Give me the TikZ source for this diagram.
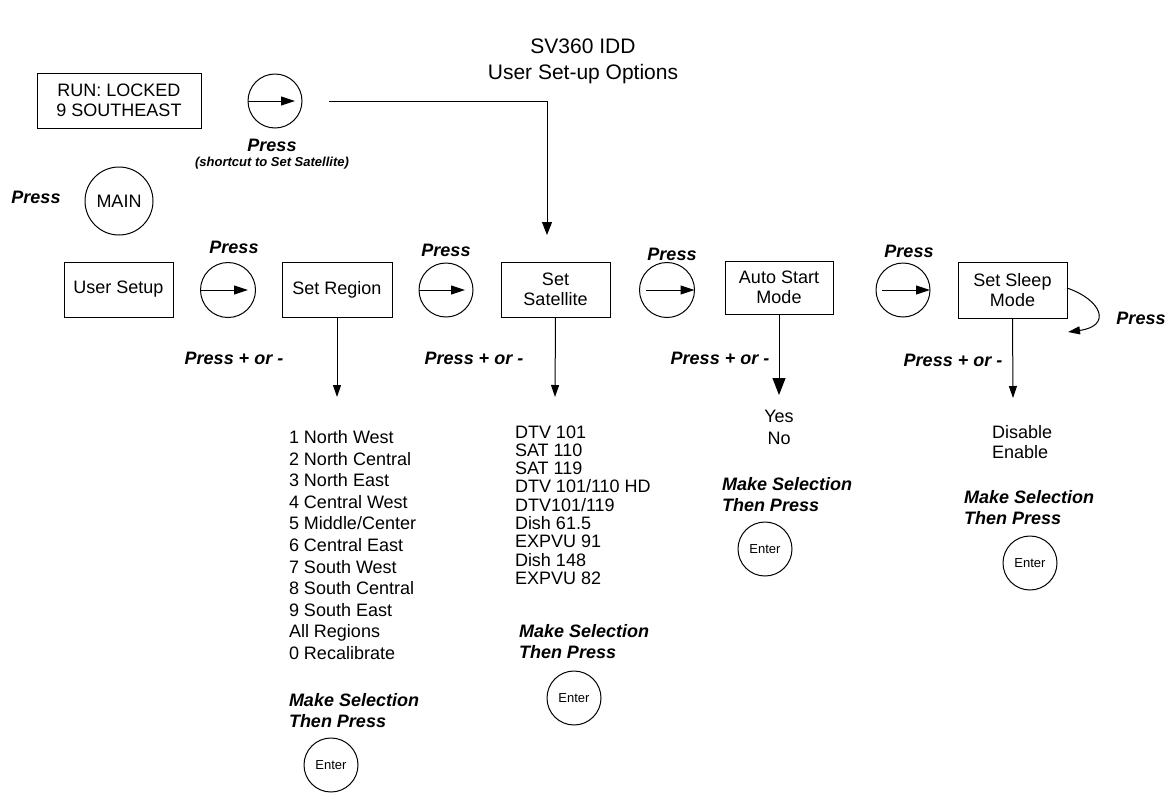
\documentclass[tikz,border=0pt]{standalone}
\usepackage{fontspec}
\setmainfont{Liberation Sans}
\usetikzlibrary{arrows.meta}
\begin{document}
\begin{tikzpicture}[x=1pt,y=-1pt,
  every node/.style={inner sep=0pt, outer sep=0pt},
  lbl/.style={font=\fontsize{18}{21.6}\selectfont},
  satlbl/.style={font=\fontsize{18}{18.3}\selectfont},
  pr/.style={font=\fontsize{18}{21}\selectfont\bfseries\itshape},
  box/.style={draw, line width=1pt, font=\fontsize{18}{20}\selectfont, align=center, minimum width=109pt, minimum height=55pt},
  btn/.style={draw, circle, line width=1pt, minimum size=55pt},
  enter/.style={draw, circle, line width=1pt, minimum size=54pt, font=\fontsize{13}{15}\selectfont},
  arr/.style={line width=1pt, -{Triangle[length=12pt,width=8pt]}},
  carr/.style={line width=1pt, -{Triangle[length=14pt,width=9pt]}},
  bigarr/.style={line width=1pt, -{Triangle[length=17pt,width=13pt]}}
]
\useasboundingbox[fill=white] (0,0) rectangle (1167,793);

% title
\node[font=\fontsize{21}{26}\selectfont, align=center, anchor=north] (title) at (583,38.5) {SV360 IDD\\User Set-up Options};

% top part
\node[box, minimum width=164pt] (run) at (119,100.5) {RUN: LOCKED\\9 SOUTHEAST};
\node[btn, minimum size=54pt] (c0) at (275,101) {};
\draw[carr] (c0.west) -- ([xshift=20pt]c0.center);
\node[pr] (p0) at (272,145.5) {Press};
\node[font=\fontsize{13}{15}\selectfont\bfseries\itshape] (shortcut) at (272,163) {(shortcut to Set Satellite)};
\coordinate (scstart) at (329,101);
\coordinate (scend) at (547,235);
\draw[line width=1pt, -{Triangle[length=13pt,width=10pt]}] (scstart) -- (547,101) -- (scend);

\node[pr] (pmain) at (36,197) {Press};
\node[btn, minimum size=68pt, font=\fontsize{18}{20}\selectfont] (main) at (119,201) {MAIN};

% main row
\node[box] (usersetup) at (118.5,289.5) {User Setup};
\node[btn] (c1) at (228,290) {};
\draw[carr] (c1.west) -- ([xshift=20pt]c1.center);
\node[pr] (p1) at (234,247) {Press};

\node[box, minimum width=110pt] (region) at (337,289.5) {Set Region};
\node[btn, minimum size=54pt] (c2) at (446,290) {};
\draw[carr] (c2.west) -- ([xshift=19pt]c2.center);
\node[pr] (p2) at (446,250) {Press};

\node[box] (satellite) at (555.5,289.5) {Set\\Satellite};
\node[btn] (c3) at (667,290) {};
\draw[carr] ([xshift=-21pt]c3.center) -- (c3.east);
\node[pr] (p3) at (672,254) {Press};

\node[box, minimum width=108pt, minimum height=53pt] (auto) at (779,287.5) {Auto Start\\Mode};
\node[btn, minimum size=54pt] (c4) at (903,290) {};
\draw[carr] ([xshift=-21pt]c4.center) -- (c4.east);
\node[pr] (p4) at (909,251) {Press};

\node[box, minimum height=56pt] (sleep) at (1012.5,290) {Set Sleep\\Mode};
\coordinate (sleepback) at (1068,332);
\draw[arr] ([yshift=2pt]sleep.east) .. controls (1102,300) and (1112,326) .. (sleepback);
\node[pr] (p5) at (1141,318) {Press};

% press + or -
\node[pr] (pm1) at (234,358) {Press + or -};
\node[pr] (pm2) at (474,358) {Press + or -};
\node[pr] (pm3) at (720,358) {Press + or -};
\node[pr] (pm4) at (953,360) {Press + or -};

% down arrows
\coordinate (regtip) at (337,397);
\coordinate (sattip) at (555,397);
\coordinate (autotip) at (779,395);
\coordinate (sleeptip) at (1013,398);
\draw[arr] (region.south) -- (regtip);
\draw[arr] (satellite.south) -- (sattip);
\draw[bigarr] (auto.south) -- (autotip);
\draw[arr] (sleep.south) -- (sleeptip);

% region list
\node[lbl, align=left, anchor=north west] (reglist) at (289,430.5) {1 North West\\2 North Central\\3 North East\\4 Central West\\5 Middle/Center\\6 Central East\\7 South West\\8 South Central\\9 South East\\All Regions\\0 Recalibrate};
\node[pr, align=left, anchor=north west] (regsel) at (289,693.5) {Make Selection\\Then Press};
\node[enter] (regenter) at (331,765) {Enter};

% satellite list
\node[satlbl, align=left, anchor=north west] (satlist) at (515,425.5) {DTV 101\\SAT 110\\SAT 119\\DTV 101/110 HD\\DTV101/119\\Dish 61.5\\EXPVU 91\\Dish 148\\EXPVU 82};
\node[pr, align=left, anchor=north west] (satsel) at (519,624.5) {Make Selection\\Then Press};
\node[enter] (satenter) at (574,698) {Enter};

% auto start list
\node[lbl, align=center, anchor=north] (autolist) at (779,410.5) {Yes\\No};
\node[pr, align=left, anchor=north west] (autosel) at (722,477.5) {Make Selection\\Then Press};
\node[enter] (autoenter) at (765,549) {Enter};

% sleep list
\node[font=\fontsize{18}{20}\selectfont, align=left, anchor=north west] (sleeplist) at (992,425.5) {Disable\\Enable};
\node[pr, align=left, anchor=north west] (sleepsel) at (964,490.5) {Make Selection\\Then Press};
\node[enter] (sleepenter) at (1030,563) {Enter};
\end{tikzpicture}
\end{document}
